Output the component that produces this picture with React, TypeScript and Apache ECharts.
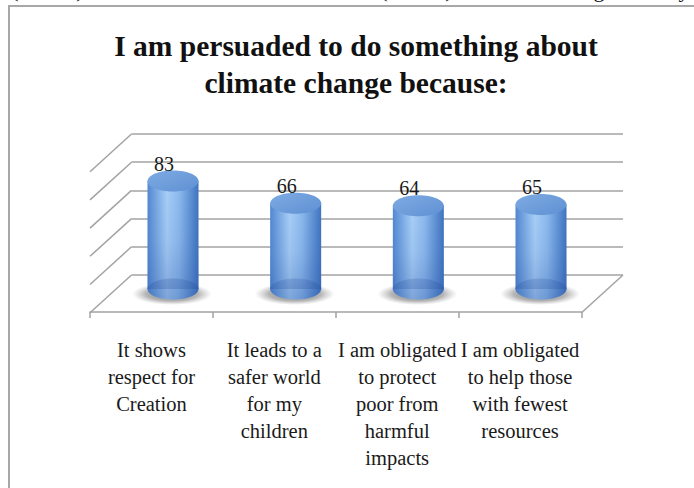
import React, { useEffect, useRef } from "react";
import * as echarts from "echarts";

const categories = [
  "It shows\nrespect for\nCreation",
  "It leads to a\nsafer world\nfor my\nchildren",
  "I am obligated\nto protect\npoor from\nharmful\nimpacts",
  "I am obligated\nto help those\nwith fewest\nresources",
];
const values = [83, 66, 64, 65];
const valueTicks = [0, 20, 40, 60, 80, 100];
const titleText = "I am persuaded to do something about\nclimate change because:";
const clippedTopChars = ["(", ")", "(", ")", "g", "y"];

const FONT = '"Liberation Serif", "Times New Roman", serif';
const GRID_COLOR = "#a3a3a3";
const DX = -41.5;
const DY = 37.7;

export default function App() {
  const ref = useRef<HTMLDivElement>(null);
  useEffect(() => {
    if (!ref.current) return;
    const chart = echarts.init(ref.current, null, { renderer: "svg" });
    const topX = [15, 80, 384, 449, 599, 684];
    const option: any = {
      animation: false,
      backgroundColor: "#ffffff",
      title: {
        text: titleText,
        left: 356,
        top: 27,
        padding: 0,
        textAlign: "center",
        textStyle: {
          fontFamily: FONT,
          fontWeight: "bold",
          fontSize: 29.5,
          lineHeight: 37,
          color: "#111111",
        },
      },
      graphic: [
        {
          type: "rect",
          shape: { x: 9, y: 6, width: 720, height: 520 },
          style: { fill: "none", stroke: "#a8a8a8", lineWidth: 2 },
          silent: true,
        },
        ...clippedTopChars.map((c, k) => ({
          type: "text",
          x: topX[k],
          y: 0.5,
          style: {
            text: c,
            font: `22px ${FONT}`,
            fill: "#111",
            align: "center",
            verticalAlign: "bottom",
          },
          silent: true,
        })),
      ],
      grid: [
        { left: 131.5, right: 71, top: 134, bottom: 213 },
        { left: 90, right: 112.5, top: 300, bottom: 176 },
        { left: 111.67, right: 91.67, top: 159, bottom: 199 },
      ],
      xAxis: [
        { gridIndex: 0, type: "category", data: categories, show: false },
        {
          gridIndex: 1,
          type: "category",
          data: categories,
          axisLine: { show: true, lineStyle: { color: GRID_COLOR, width: 1.5 } },
          axisTick: { show: true, length: 6, lineStyle: { color: GRID_COLOR, width: 1.5 } },
          axisLabel: {
            interval: 0,
            margin: 24,
            fontFamily: FONT,
            fontSize: 20.5,
            lineHeight: 27,
            color: "#1a1a1a",
            align: "center",
          },
        },
        { gridIndex: 2, type: "category", data: categories, show: false },
      ],
      yAxis: [
        {
          gridIndex: 0,
          type: "value",
          min: 0,
          max: 100,
          interval: 20,
          axisLine: { show: false },
          axisTick: { show: false },
          axisLabel: { show: false },
          splitLine: { show: true, lineStyle: { color: GRID_COLOR, width: 1.5 } },
        },
        { gridIndex: 1, type: "value", show: false },
        { gridIndex: 2, type: "value", min: 0, max: 100, show: false },
      ],
      series: [
        {
          type: "custom",
          xAxisIndex: 0,
          yAxisIndex: 0,
          silent: true,
          data: valueTicks.map((v) => [0, v]),
          encode: { x: 0, y: 1 },
          renderItem: (params: any, api: any) => {
            const v = api.value(1);
            const y = api.coord([0, v])[1];
            const cs = params.coordSys;
            const children: any[] = [
              {
                type: "line",
                shape: { x1: cs.x, y1: y, x2: cs.x + DX, y2: y + DY },
                style: { stroke: GRID_COLOR, lineWidth: 1.5 },
              },
            ];
            if (v === 0) {
              children.push({
                type: "line",
                shape: { x1: cs.x + cs.width, y1: y, x2: cs.x + cs.width + DX, y2: y + DY },
                style: { stroke: GRID_COLOR, lineWidth: 1.5 },
              });
            }
            return { type: "group", children };
          },
        },
        {
          type: "custom",
          xAxisIndex: 2,
          yAxisIndex: 2,
          silent: true,
          data: values.map((v, i) => [i, v]),
          encode: { x: 0, y: 1 },
          renderItem: (params: any, api: any) => {
            const i = api.value(0);
            const v = api.value(1);
            const top = api.coord([i, v]);
            const base = api.coord([i, 0]);
            const cx = top[0];
            const rx = 25.5;
            const ry = 10.5;
            const sideGrad = new echarts.graphic.LinearGradient(0, 0, 1, 0, [
              { offset: 0, color: "#5288d2" },
              { offset: 0.38, color: "#a8cff7" },
              { offset: 0.62, color: "#8dbaee" },
              { offset: 1, color: "#3f74c0" },
            ]);
            const shade = new echarts.graphic.LinearGradient(
              0,
              top[1],
              0,
              base[1] + ry,
              [
                { offset: 0, color: "rgba(40,80,160,0)" },
                { offset: 0.5, color: "rgba(40,80,160,0.08)" },
                { offset: 1, color: "rgba(30,70,150,0.3)" },
              ],
              true
            );
            const topGrad = new echarts.graphic.LinearGradient(0, 0, 1, 1, [
              { offset: 0, color: "#7eabe3" },
              { offset: 1, color: "#5f90d3" },
            ]);
            const shadowGrad = new echarts.graphic.RadialGradient(0.5, 0.5, 0.5, [
              { offset: 0, color: "rgba(60,60,60,0.75)" },
              { offset: 0.65, color: "rgba(90,90,90,0.45)" },
              { offset: 1, color: "rgba(130,130,130,0)" },
            ]);
            return {
              type: "group",
              children: [
                {
                  type: "ellipse",
                  shape: { cx: cx - 1, cy: base[1] + 5, rx: 40, ry: 11 },
                  style: { fill: shadowGrad },
                },
                {
                  type: "ellipse",
                  shape: { cx, cy: base[1], rx, ry },
                  style: { fill: sideGrad },
                },
                {
                  type: "rect",
                  shape: { x: cx - rx, y: top[1], width: 2 * rx, height: base[1] - top[1] },
                  style: { fill: sideGrad },
                },
                {
                  type: "ellipse",
                  shape: { cx, cy: base[1], rx, ry },
                  style: { fill: shade },
                },
                {
                  type: "rect",
                  shape: { x: cx - rx, y: top[1], width: 2 * rx, height: base[1] - top[1] },
                  style: { fill: shade },
                },
                {
                  type: "ellipse",
                  shape: { cx, cy: top[1], rx, ry },
                  style: { fill: topGrad },
                },
                {
                  type: "text",
                  style: {
                    text: String(v),
                    x: cx - 9,
                    y: top[1] - ry - 7,
                    align: "center",
                    verticalAlign: "middle",
                    font: `20px ${FONT}`,
                    fill: "#1a1a1a",
                  },
                },
              ],
            };
          },
        },
      ],
    };
    chart.setOption(option);
    return () => chart.dispose();
  }, []);
  return (
    <div
      ref={ref}
      style={{ position: "fixed", left: 0, top: 0, width: 694, height: 488, background: "#fff" }}
    />
  );
}
